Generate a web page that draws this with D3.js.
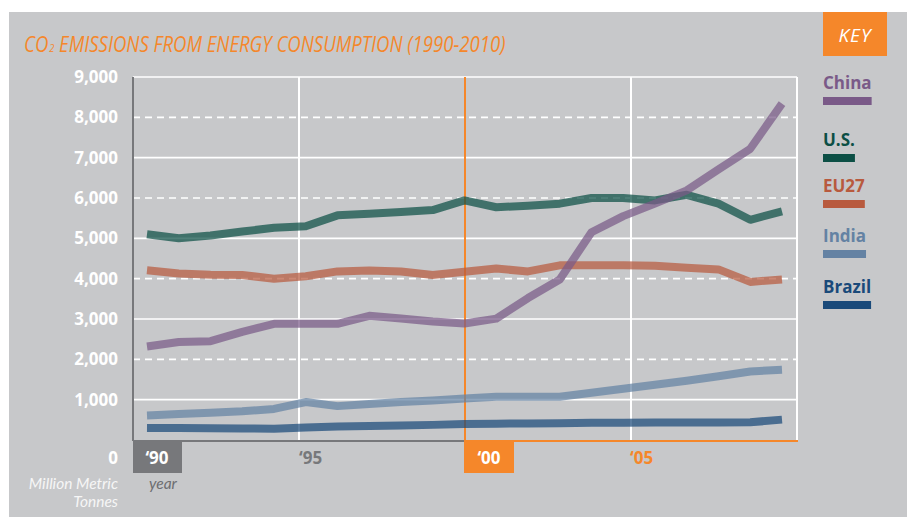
<!DOCTYPE html>
<html>
<head>
<meta charset="utf-8">
<script src="https://cdn.jsdelivr.net/npm/d3@7"></script>
<style>
  body { margin: 0; background: #fff; }
  svg { display: block; font-family: "Open Sans", sans-serif; }
</style>
</head>
<body>
<div></div>
<script>
const width = 907;
const height = 517;

// values, million metric tonnes
const years = d3.range(1990, 2011);
const china  = [2320, 2430, 2450, 2680, 2880, 2880, 2880, 3080, 3010, 2940, 2890, 3010, 3520, 3980, 5150, 5550, 5860, 6190, 6710, 7220, 8340];
const us     = [5100, 5000, 5070, 5170, 5260, 5300, 5570, 5610, 5650, 5700, 5940, 5770, 5810, 5860, 6000, 6000, 5940, 6080, 5860, 5460, 5670];
const eu27   = [4210, 4130, 4100, 4090, 4000, 4060, 4180, 4200, 4180, 4090, 4170, 4250, 4180, 4330, 4330, 4330, 4320, 4270, 4230, 3920, 3980];
const india  = [610, 645, 677, 710, 770, 940, 840, 890, 940, 980, 1030, 1070, 1070, 1070, 1170, 1270, 1370, 1470, 1580, 1700, 1740];
const brazil = [300, 295, 290, 285, 280, 310, 335, 350, 360, 375, 395, 405, 410, 415, 425, 430, 435, 435, 435, 440, 505];

const seriesNames = ['China', 'U.S.', 'EU27', 'India', 'Brazil'];
const seriesValues = [china, us, eu27, india, brazil];
const seriesColors = ['#7a5a88', '#0c4f45', '#b85a3e', '#6482a3', '#1a4a7a'];

const yTicks = [1000, 2000, 3000, 4000, 5000, 6000, 7000, 8000, 9000];
const xTicks = [1990, 1995, 2000, 2005];
const xTickLabels = ['\u201890', '\u201895', '\u201800', '\u201805'];

const orange = '#f5872a';
const bg = '#c7c8ca';
const darkGray = '#77787b';

const svg = d3.select('div').append('svg').attr('width', width).attr('height', height);

svg.append('rect').attr('x', 9).attr('y', 12).attr('width', width - 9).attr('height', height - 12).attr('fill', bg);

const x = d3.scaleLinear().domain([1990, 2010]).range([133, 797]);
// points sit a little inside the frame
const xd = d3.scaleLinear().domain([1990, 2010]).range([147, 782]);
const y = d3.scaleLinear().domain([0, 9000]).range([440, 77]);

// title: one text, squeezed sideways to the reference width
const title = svg.append('text')
    .attr('x', 0).attr('y', 0)
    .attr('fill', orange)
    .style('font-style', 'italic')
    .style('font-size', '22px');
title.append('tspan').text('CO');
title.append('tspan').attr('dx', 1).style('font-size', '11px').text('2');
title.append('tspan').text(' EMISSIONS FROM ENERGY CONSUMPTION (1990-2010)');
const titleW = title.node().getComputedTextLength();
title.attr('transform', 'translate(24,52) scale(' + (481 / titleW) + ',1)');

// grid
const grid = svg.append('g');
grid.selectAll('line.h').data(yTicks)
    .enter().append('line')
    .attr('class', 'h')
    .attr('x1', x(1990)).attr('x2', x(2010))
    .attr('y1', d => y(d)).attr('y2', d => y(d))
    .attr('stroke', '#fff')
    .attr('stroke-width', 1.6)
    .attr('stroke-dasharray', d => (d / 1000) % 2 === 0 ? '7,5' : null);

grid.selectAll('line.v').data([1995, 2005])
    .enter().append('line')
    .attr('class', 'v')
    .attr('x1', d => x(d)).attr('x2', d => x(d))
    .attr('y1', y(9000)).attr('y2', y(0))
    .attr('stroke', '#fff')
    .attr('stroke-width', 2);

grid.append('line')
    .attr('x1', x(2010)).attr('x2', x(2010))
    .attr('y1', y(9000)).attr('y2', y(0))
    .attr('stroke', '#fff').attr('stroke-width', 2);

grid.append('line')
    .attr('x1', x(2000)).attr('x2', x(2000))
    .attr('y1', y(9000)).attr('y2', y(0) + 33)
    .attr('stroke', orange).attr('stroke-width', 2);

// axes
svg.append('line')
    .attr('x1', x(1990)).attr('x2', x(1990))
    .attr('y1', y(9000)).attr('y2', y(0) + 1)
    .attr('stroke', darkGray).attr('stroke-width', 2);
svg.append('line')
    .attr('x1', x(1990)).attr('x2', x(2000))
    .attr('y1', y(0) + 1).attr('y2', y(0) + 1)
    .attr('stroke', darkGray).attr('stroke-width', 2);
svg.append('line')
    .attr('x1', x(2000)).attr('x2', x(2010) + 1)
    .attr('y1', y(0) + 1).attr('y2', y(0) + 1)
    .attr('stroke', orange).attr('stroke-width', 2);

// y labels
svg.append('g').selectAll('text').data(yTicks)
    .enter().append('text')
    .attr('x', 118).attr('y', d => y(d))
    .attr('dy', '0.36em')
    .attr('text-anchor', 'end')
    .attr('fill', '#fff')
    .style('font-weight', 700)
    .style('font-size', '17px')
    .text(d3.format(','));

svg.append('text')
    .attr('x', 118).attr('y', 464)
    .attr('text-anchor', 'end')
    .attr('fill', '#fff')
    .style('font-weight', 700)
    .style('font-size', '17px')
    .text('0');

const unit = svg.append('g')
    .attr('fill', '#f6f6f6')
    .style('font-family', 'Lato, sans-serif')
    .style('font-style', 'italic')
    .style('font-size', '15.5px');
unit.append('text').attr('x', 118).attr('y', 489).attr('text-anchor', 'end').text('Million Metric');
unit.append('text').attr('x', 118).attr('y', 507).attr('text-anchor', 'end').text('Tonnes');

svg.append('text')
    .attr('x', 149).attr('y', 489)
    .attr('fill', '#6d6e71')
    .style('font-family', 'Lato, sans-serif')
    .style('font-style', 'italic')
    .style('font-size', '15.5px')
    .text('year');

// x labels
svg.append('rect').attr('x', x(1990)).attr('y', y(0)).attr('width', 49).attr('height', 33).attr('fill', darkGray);
svg.append('rect').attr('x', x(2000) - 1).attr('y', y(0)).attr('width', 50).attr('height', 33).attr('fill', orange);

const xLabelFill = ['#fff', darkGray, '#fff', orange];
const xLabelX = [x(1990) + 24, x(1995), x(2000) + 24, x(2005) - 1];
svg.append('g').selectAll('text').data(xTicks)
    .enter().append('text')
    .attr('x', (d, i) => xLabelX[i])
    .attr('y', 464)
    .attr('text-anchor', (d, i) => i % 2 === 0 ? 'middle' : 'start')
    .attr('fill', (d, i) => xLabelFill[i])
    .style('font-weight', 700)
    .style('font-size', '17px')
    .text((d, i) => xTickLabels[i]);

// lines
const line = d3.line()
    .x((d, i) => xd(years[i]))
    .y(d => y(d));

const order = [4, 3, 2, 1, 0];
svg.append('g').selectAll('path').data(order)
    .enter().append('path')
    .attr('d', k => line(seriesValues[k]))
    .attr('fill', 'none')
    .attr('stroke', k => seriesColors[k])
    .attr('stroke-width', 8)
    .attr('stroke-opacity', 0.72)
    .attr('stroke-linejoin', 'round');

// key
svg.append('rect').attr('x', 823).attr('y', 12).attr('width', 64).attr('height', 44).attr('fill', orange);
svg.append('text')
    .attr('x', 855).attr('y', 42)
    .attr('text-anchor', 'middle')
    .attr('fill', '#fff')
    .style('font-style', 'italic')
    .style('font-size', '19px')
    .style('letter-spacing', '1px')
    .text('KEY');

const keyY = [89, 146, 192, 242, 293];
const key = svg.append('g').selectAll('g').data(seriesNames)
    .enter().append('g')
    .attr('transform', (d, i) => 'translate(823,' + keyY[i] + ')');

key.append('text')
    .attr('fill', (d, i) => seriesColors[i])
    .style('font-weight', 700)
    .style('font-size', '17px')
    .text(d => d);

key.each(function() {
    const g = d3.select(this);
    const w = g.select('text').node().getComputedTextLength();
    g.append('rect')
        .attr('y', 8).attr('width', w).attr('height', 8)
        .attr('fill', g.select('text').attr('fill'));
});
</script>
</body>
</html>
